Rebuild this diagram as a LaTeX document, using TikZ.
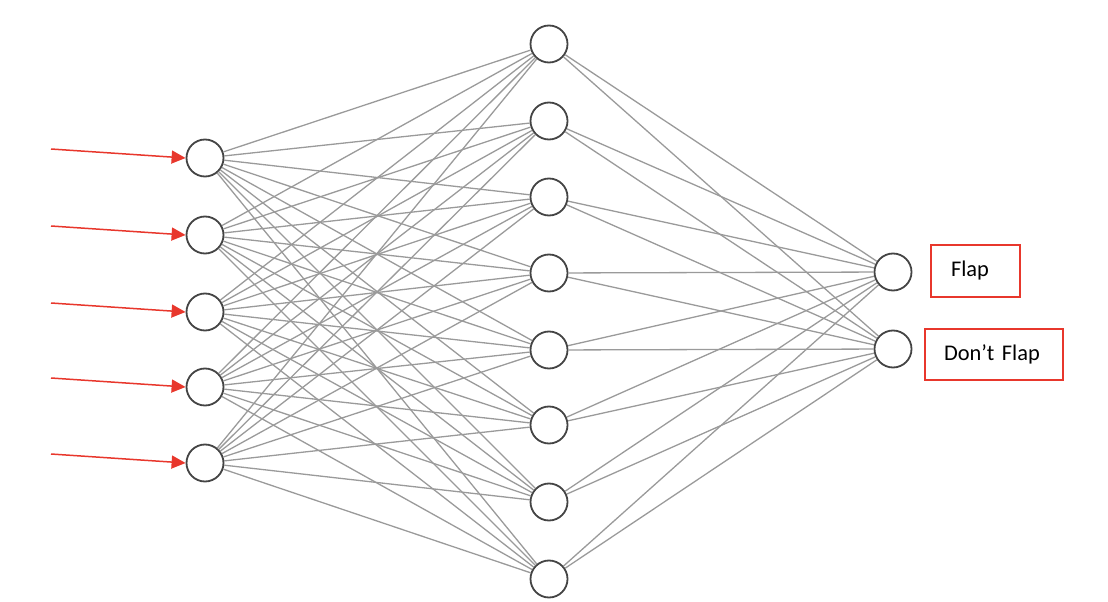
\documentclass[tikz,border=0pt]{standalone}
\usepackage{fontspec}
\setmainfont{Carlito}
\usepackage{tikz}
\usetikzlibrary{arrows.meta}

\definecolor{netgray}{HTML}{9A9A9A}
\definecolor{ringgray}{HTML}{444444}
\definecolor{flapred}{HTML}{E8372C}

\tikzset{
  neuron/.style={circle, draw=ringgray, line width=1.8bp, fill=white, minimum size=37bp, inner sep=0pt},
  link/.style={draw=netgray, line width=1.3bp},
  feed/.style={draw=flapred, line width=1.5bp, -{Triangle[length=14bp,width=13bp]}},
  answer/.style={draw=flapred, line width=2bp, anchor=west, align=left, inner ysep=0pt,
    minimum height=52bp, font=\fontsize{22.5}{27}\selectfont}
}

\begin{document}
\begin{tikzpicture}[x=1bp, y=-1bp]
\useasboundingbox (0,0) rectangle (1108,602);

%the input layer
\foreach \i/\yy in {1/158, 2/235, 3/312, 4/387, 5/463}
  \node [neuron] (in\i) at (205,\yy) {};

%the hidden layer
\foreach \j/\yy in {1/44, 2/121, 3/197, 4/273, 5/350, 6/425, 7/502, 8/579}
  \node [neuron] (hid\j) at (549,\yy) {};

%the output layer
\node [neuron] (out1) at (893,272) {};
\node [neuron] (out2) at (893,349) {};

%the weights
\foreach \i in {1,...,5}
  \foreach \j in {1,...,8}
    \draw [link] (in\i) -- (hid\j);
\foreach \j in {1,...,8}
  \foreach \k in {1,2}
    \draw [link] (hid\j) -- (out\k);

%the inputs
\foreach \i/\yy in {1/149, 2/226, 3/303, 4/378, 5/454} {
  \coordinate (src\i) at (51,\yy);
  \draw [feed] (src\i) -- (in\i.west);
}

%the answers
\node [answer, inner xsep=20bp, text width=49bp] (flap) at (930,271) {Flap};
\node [answer, inner xsep=19bp, text width=100bp, minimum height=51bp] (noflap) at (924,354.5) {Don’t Flap};
\end{tikzpicture}
\end{document}
